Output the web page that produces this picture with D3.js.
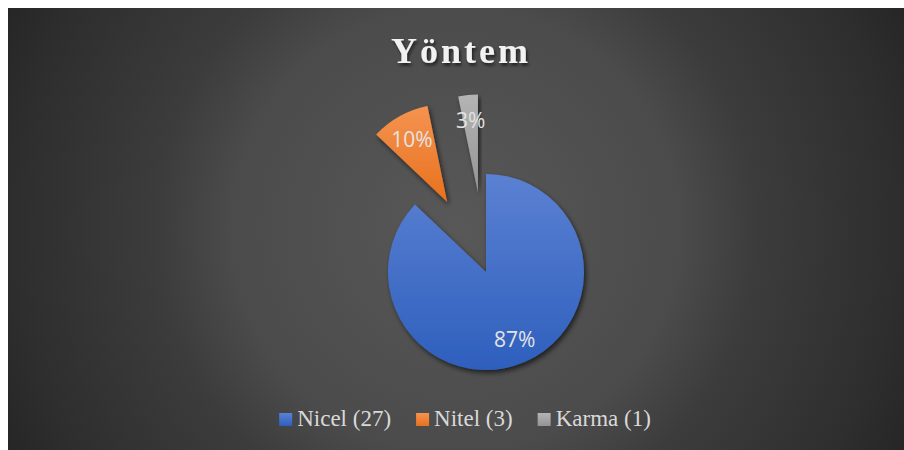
<!DOCTYPE html>
<html>
<head>
<meta charset="utf-8">
<script src="https://d3js.org/d3.v7.min.js"></script>
<style>
  html, body { margin: 0; padding: 0; background: #fff; }
  svg { display: block; }
</style>
</head>
<body>
<div id="chart"></div>
<script>
// Data
const categories = ["Nicel", "Nitel", "Karma"];
const counts = [27, 3, 1];
const title = "Yöntem";

// Dimensions
const width = 904;
const height = 450;
const frame = { x: 8, y: 8 };
const radius = 98;
const center = { x: 486, y: 272 };
const explodeBy = [0, 80, 80];

const colors = [
  ["#5b81d2", "#2e5fbd"],
  ["#f59350", "#e8711d"],
  ["#b4b4b4", "#949494"]
];

const svg = d3.select("#chart").append("svg")
  .attr("width", width)
  .attr("height", height);

const defs = svg.append("defs");

// background gradient
const bg = defs.append("radialGradient")
  .attr("id", "bg")
  .attr("gradientUnits", "userSpaceOnUse")
  .attr("cx", 456).attr("cy", 229).attr("r", 500);
[[0, "#585858"], [0.45, "#4b4b4b"], [0.6, "#3c3c3c"], [0.88, "#2e2e2e"], [1, "#262626"]]
  .forEach(([o, c]) => bg.append("stop").attr("offset", o).attr("stop-color", c));

colors.forEach((c, i) => {
  const g = defs.append("linearGradient")
    .attr("id", "slice" + i)
    .attr("x1", 0).attr("y1", 0).attr("x2", 0).attr("y2", 1);
  g.append("stop").attr("offset", 0).attr("stop-color", c[0]);
  g.append("stop").attr("offset", 1).attr("stop-color", c[1]);
});

const shadow = defs.append("filter").attr("id", "shadow")
  .attr("x", "-20%").attr("y", "-20%").attr("width", "140%").attr("height", "140%");
shadow.append("feDropShadow")
  .attr("dx", 2).attr("dy", 3).attr("stdDeviation", 2.5)
  .attr("flood-color", "#000").attr("flood-opacity", 0.6);

const tshadow = defs.append("filter").attr("id", "tshadow")
  .attr("x", "-10%").attr("y", "-30%").attr("width", "120%").attr("height", "160%");
tshadow.append("feDropShadow")
  .attr("dx", 1.5).attr("dy", 2.5).attr("stdDeviation", 1.5)
  .attr("flood-color", "#000").attr("flood-opacity", 0.6);

svg.append("rect")
  .attr("x", frame.x).attr("y", frame.y)
  .attr("width", width - frame.x).attr("height", height - frame.y)
  .attr("fill", "url(#bg)");

// Title
svg.append("text")
  .attr("x", 461)
  .attr("y", 63)
  .attr("text-anchor", "middle")
  .attr("font-family", "'Liberation Serif', 'Times New Roman', serif")
  .attr("font-weight", "bold")
  .attr("font-size", "36px")
  .attr("letter-spacing", "3px")
  .attr("fill", "#f2f2f2")
  .attr("filter", "url(#tshadow)")
  .text(title);

// Pie
const data = categories.map((c, i) => ({ name: c, value: counts[i], i }));
const total = d3.sum(counts);
const pie = d3.pie().value(d => d.value).sort(null);
const arcs = pie(data);
const arc = d3.arc().innerRadius(0).outerRadius(radius);
const pct = d3.format(".0%");

function offset(d) {
  const a = (d.startAngle + d.endAngle) / 2;
  const e = explodeBy[d.index];
  return [Math.sin(a) * e, -Math.cos(a) * e];
}

const pieG = svg.append("g")
  .attr("transform", `translate(${center.x},${center.y})`);

pieG.selectAll("path")
  .data(arcs)
  .join("path")
  .attr("transform", d => `translate(${offset(d)})`)
  .attr("d", arc)
  .attr("fill", d => `url(#slice${d.index})`)
  .attr("filter", "url(#shadow)");

const labelR = radius * 0.74;
pieG.selectAll("text")
  .data(arcs)
  .join("text")
  .attr("transform", d => {
    const a = (d.startAngle + d.endAngle) / 2;
    const [ox, oy] = offset(d);
    return `translate(${ox + Math.sin(a) * labelR},${oy - Math.cos(a) * labelR})`;
  })
  .attr("text-anchor", "middle")
  .attr("dy", "0.38em")
  .attr("font-family", "'Open Sans', sans-serif")
  .attr("font-size", "21px")
  .attr("fill", "#e3e3e3")
  .text(d => pct(d.value / total));

// Legend
const legend = svg.append("g");
const items = legend.selectAll("g")
  .data(data)
  .join("g");

items.append("rect")
  .attr("y", -13)
  .attr("width", 13)
  .attr("height", 13)
  .attr("fill", d => `url(#slice${d.i})`);

items.append("text")
  .attr("x", 18)
  .attr("font-family", "'Liberation Serif', 'Times New Roman', serif")
  .attr("font-size", "23px")
  .attr("fill", "#d9d9d9")
  .text(d => `${d.name} (${d.value})`);

let xPos = 0;
items.each(function () {
  const w = 18 + d3.select(this).select("text").node().getComputedTextLength();
  d3.select(this).attr("transform", `translate(${xPos},0)`);
  xPos += w + 25;
});
const legendW = xPos - 25;
legend.attr("transform", `translate(${465 - legendW / 2},426)`);
</script>
</body>
</html>
